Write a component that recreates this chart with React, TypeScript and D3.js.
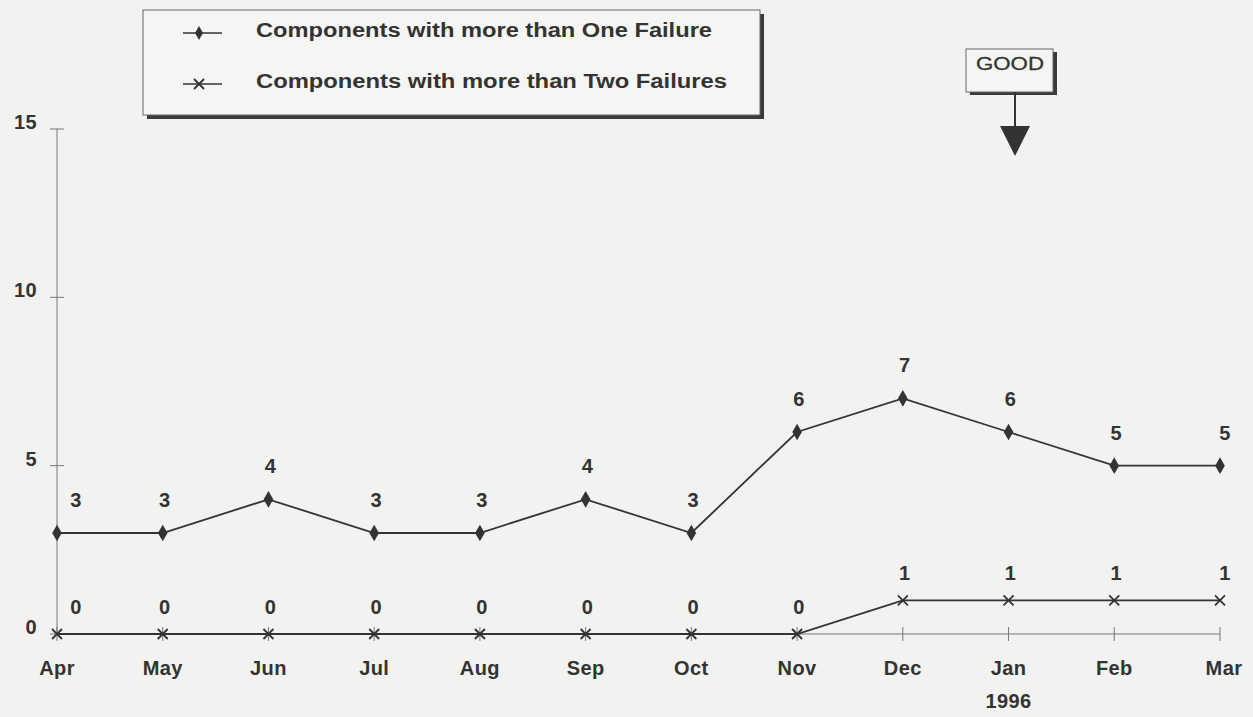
import React from "react";
import * as d3 from "d3";

const months = ["Apr", "May", "Jun", "Jul", "Aug", "Sep", "Oct", "Nov", "Dec", "Jan", "Feb", "Mar"];
const oneFailure = [3, 3, 4, 3, 3, 4, 3, 6, 7, 6, 5, 5];
const twoFailures = [0, 0, 0, 0, 0, 0, 0, 0, 1, 1, 1, 1];
const yTicks = [0, 5, 10, 15];
const legendLabels = ["Components with more than One Failure", "Components with more than Two Failures"];

const W = 1253, H = 717;
const ink = "#333";
const font = "'Liberation Sans', Arial, sans-serif";

export default function App() {
  const x = d3.scalePoint<string>().domain(months).range([57, 1220]);
  const y = d3.scaleLinear().domain([0, 15]).range([634, 129]);
  const line = d3.line<number>().x((_, i) => x(months[i])!).y((d) => y(d));

  const diamond = d3.symbol().type(d3.symbolDiamond).size(80)()!;
  const cross = (cx: number, cy: number, k: string) => (
    <g key={k} stroke={ink} strokeWidth={1.8}>
      <line x1={cx - 5} y1={cy - 5} x2={cx + 5} y2={cy + 5} />
      <line x1={cx - 5} y1={cy + 5} x2={cx + 5} y2={cy - 5} />
    </g>
  );
  const lbl = { fontSize: 20, fontWeight: "bold" as const, fill: ink, letterSpacing: 0.4 };
  const dx = (i: number) => (i === 0 ? 19 : i === months.length - 1 ? 5 : 2);

  return (
    <svg width={W} height={H} style={{ position: "absolute", left: 0, top: 0, background: "#f2f2f0" }} fontFamily={font}>
      <rect x={0} y={0} width={W} height={H} fill="#f2f2f0" />
      {/* Y axis */}
      <line x1={x("Apr")} x2={x("Apr")} y1={y(15)} y2={y(0)} stroke="#777" strokeWidth={1} />
      {yTicks.map((t) => (
        <g key={t}>
          <line x1={x("Apr")! - 7} x2={x("Apr")! + 7} y1={y(t)} y2={y(t)} stroke="#777" strokeWidth={1} />
          <text x={37} y={y(t)} textAnchor="end" {...lbl}>{t}</text>
        </g>
      ))}
      {/* X axis */}
      <line x1={x("Apr")} x2={x("Mar")} y1={y(0)} y2={y(0)} stroke="#777" strokeWidth={1} />
      {months.map((m, i) => (
        <g key={m}>
          <line x1={x(m)} x2={x(m)} y1={y(0) - 7} y2={y(0) + 7} stroke="#777" strokeWidth={1} />
          <text x={x(m)! + (i === months.length - 1 ? 4 : 0)} y={675} textAnchor="middle" {...lbl}>{m}</text>
        </g>
      ))}
      <text x={x("Jan")} y={708} textAnchor="middle" {...lbl}>1996</text>

      {/* series */}
      <path d={line(oneFailure)!} fill="none" stroke={ink} strokeWidth={1.8} />
      <path d={line(twoFailures)!} fill="none" stroke={ink} strokeWidth={1.8} />
      {oneFailure.map((v, i) => (
        <g key={"a" + i}>
          <path d={diamond} transform={`translate(${x(months[i])},${y(v)})`} fill={ink} />
          <text x={x(months[i])! + dx(i)} y={y(v) - 26} textAnchor="middle" {...lbl}>{v}</text>
        </g>
      ))}
      {twoFailures.map((v, i) => (
        <g key={"b" + i}>
          {cross(x(months[i])!, y(v), "c" + i)}
          <text x={x(months[i])! + dx(i)} y={y(v) - 20} textAnchor="middle" {...lbl}>{v}</text>
        </g>
      ))}

      {/* legend */}
      <rect x={147} y={14} width={617} height={105} fill="#3a3a3a" />
      <rect x={143} y={10} width={617} height={105} fill="#f5f5f3" stroke="#666" strokeWidth={1} />
      {legendLabels.map((l, i) => {
        const ly = 33 + i * 51;
        return (
          <g key={l}>
            <line x1={183} x2={222} y1={ly} y2={ly} stroke={ink} strokeWidth={1.5} />
            {i === 0 ? (
              <path d={d3.symbol().type(d3.symbolDiamond).size(55)()!} transform={`translate(199,${ly})`} fill={ink} />
            ) : (
              cross(199, ly, "lg")
            )}
            <text x={256} y={ly + 4} fontSize={20} fontWeight="bold" fill={ink}
              textLength={i === 0 ? 456 : 471} lengthAdjust="spacingAndGlyphs">{l}</text>
          </g>
        );
      })}

      {/* GOOD marker */}
      <rect x={970} y={52} width={87} height={43} fill="#3a3a3a" />
      <rect x={966} y={49} width={87} height={43} fill="#f5f5f3" stroke="#666" strokeWidth={1} />
      <text x={1010} y={70} textAnchor="middle" fontSize={19} fill={ink} stroke={ink} strokeWidth={0.3}
        textLength={68} lengthAdjust="spacingAndGlyphs">GOOD</text>
      <line x1={1015} x2={1015} y1={92} y2={128} stroke={ink} strokeWidth={2} />
      <path d="M1000,126 L1030,126 L1015,156 Z" fill={ink} />
    </svg>
  );
}
